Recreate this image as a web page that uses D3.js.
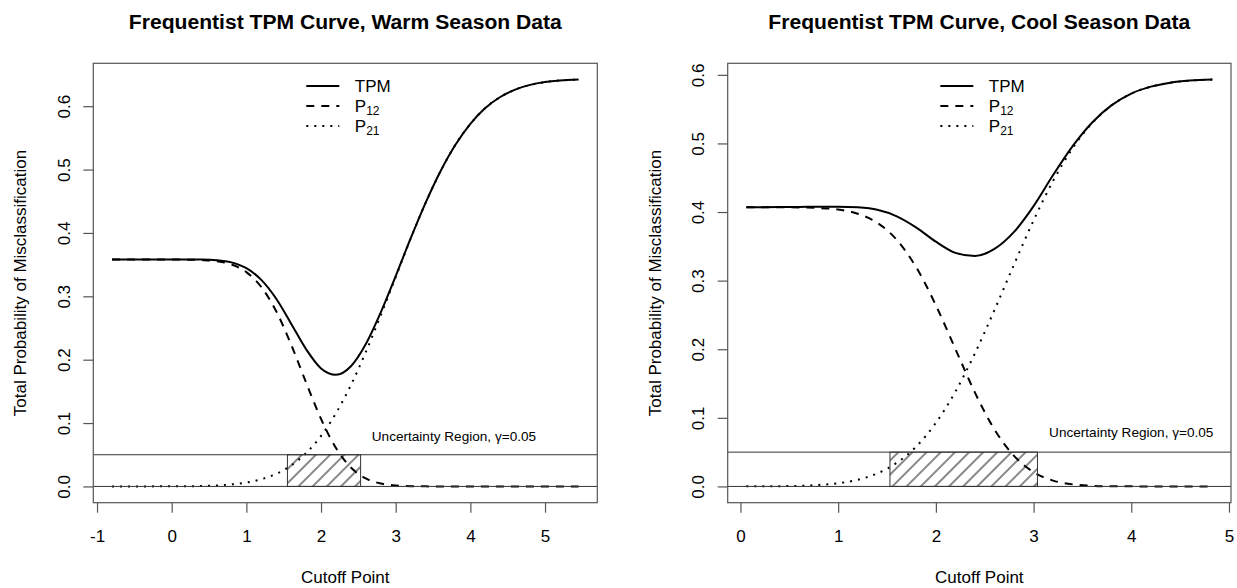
<!DOCTYPE html>
<html>
<head>
<meta charset="utf-8">
<script src="https://cdn.jsdelivr.net/npm/d3@7"></script>
<style>
  body { margin: 0; background: #fff; }
  text { font-family: "Liberation Sans", Arial, sans-serif; fill: #000; }
</style>
</head>
<body>
<div id="chart"></div>
<script>
// warm season
const warmCutoff = [-0.8, -0.6, -0.4, -0.2, 0, 0.2, 0.4, 0.6, 0.8, 1.0, 1.2, 1.4, 1.6, 1.8, 2.0, 2.2,
  2.4, 2.6, 2.8, 3.0, 3.2, 3.4, 3.6, 3.8, 4.0, 4.2, 4.4, 4.6, 4.8, 5.0, 5.2, 5.45];
const warmTPM = [0.358, 0.358, 0.358, 0.3581, 0.3581, 0.3581, 0.3579, 0.3569, 0.3535, 0.3443, 0.3260,
  0.2962, 0.2568, 0.2165, 0.1862, 0.1761, 0.1897, 0.2248, 0.2747, 0.3320, 0.3913, 0.4474, 0.4973,
  0.5391, 0.5722, 0.5970, 0.6145, 0.6262, 0.6336, 0.6380, 0.6405, 0.6420];
const warmP12 = [0.358, 0.358, 0.358, 0.358, 0.358, 0.3578, 0.3572, 0.3554, 0.3503, 0.3382, 0.3147,
  0.2764, 0.2237, 0.1639, 0.1065, 0.0606, 0.0298, 0.0126, 0.0046, 0.0014, 0.0004, 0.0001, 0, 0, 0,
  0, 0, 0, 0, 0, 0, 0];
const warmP21 = [0, 0, 0, 0.0001, 0.0001, 0.0003, 0.0007, 0.0015, 0.0032, 0.0061, 0.0113, 0.0198,
  0.0331, 0.0526, 0.0797, 0.1155, 0.1599, 0.2122, 0.2701, 0.3306, 0.3909, 0.4473, 0.4973, 0.5391,
  0.5722, 0.5970, 0.6145, 0.6262, 0.6336, 0.6380, 0.6405, 0.6420];
const warmRegion = [1.55, 2.53];

// cool season
const coolCutoff = [0.06, 0.2, 0.4, 0.6, 0.8, 1.0, 1.2, 1.4, 1.6, 1.8, 2.0, 2.2, 2.4, 2.6, 2.8, 3.0,
  3.2, 3.4, 3.6, 3.8, 4.0, 4.2, 4.4, 4.6, 4.83];
const coolTPM = [0.4071, 0.4071, 0.4072, 0.4074, 0.4078, 0.4078, 0.4068, 0.4033, 0.3938, 0.3774,
  0.3568, 0.3405, 0.3359, 0.3462, 0.3710, 0.4086, 0.4539, 0.4961, 0.5306, 0.5558, 0.5727, 0.5828,
  0.5886, 0.5916, 0.5931];
const coolP12 = [0.407, 0.407, 0.4069, 0.4067, 0.4059, 0.4037, 0.3976, 0.3844, 0.3594, 0.3191,
  0.2641, 0.2003, 0.1368, 0.0830, 0.0445, 0.0208, 0.0085, 0.0030, 0.0009, 0.0002, 0.0001, 0, 0, 0, 0];
const coolP21 = [0.0001, 0.0001, 0.0003, 0.0009, 0.0021, 0.0047, 0.0097, 0.0189, 0.0344, 0.0583,
  0.0927, 0.1382, 0.1941, 0.2572, 0.3235, 0.3878, 0.4454, 0.4931, 0.5297, 0.5556, 0.5726, 0.5828,
  0.5886, 0.5916, 0.5931];
const coolRegion = [1.53, 3.04];

const gamma = 0.05;
const yTicks = [0, 0.1, 0.2, 0.3, 0.4, 0.5, 0.6];
const legendLabels = [['TPM', ''], ['P', '12'], ['P', '21']];

const TOP = 63.3, BOTTOM = 502.7;
const BOX_COLOR = '#555';

const svg = d3.select('#chart')
  .append('svg')
  .attr('width', 1237)
  .attr('height', 588);

// hatch pattern for the uncertainty region
svg.append('defs')
  .append('pattern')
  .attr('id', 'hatch')
  .attr('patternUnits', 'userSpaceOnUse')
  .attr('width', 10)
  .attr('height', 10)
  .attr('patternTransform', 'rotate(45)')
  .append('line')
  .attr('x1', 5).attr('y1', -1)
  .attr('x2', 5).attr('y2', 11)
  .attr('stroke', '#111')
  .attr('stroke-width', 1);

// line styles: solid, dashed, dotted
const styles = [
  {dash: null},
  {dash: '8,7'},
  {dash: '2,6'}
];

function drawPanel(p) {
  // R style 4% padding round the data range
  const xExt = d3.extent(p.cutoff);
  const xPad = (xExt[1] - xExt[0]) * 0.04;
  const yMax = d3.max(p.tpm);
  const yPad = yMax * 0.04;

  const x = d3.scaleLinear()
    .domain([xExt[0] - xPad, xExt[1] + xPad])
    .range([p.left, p.right]);
  const y = d3.scaleLinear()
    .domain([-yPad, yMax + yPad])
    .range([BOTTOM, TOP]);

  const g = svg.append('g');

  // title
  g.append('text')
    .attr('x', (p.left + p.right) / 2)
    .attr('y', 29.3)
    .attr('text-anchor', 'middle')
    .attr('font-size', 21.1)
    .attr('font-weight', 'bold')
    .text(p.title);

  // curves
  const series = [p.tpm, p.p12, p.p21];
  series.forEach((vals, i) => {
    const line = d3.line()
      .x((d, j) => x(p.cutoff[j]))
      .y(d => y(d))
      .curve(d3.curveMonotoneX);
    g.append('path')
      .datum(vals)
      .attr('d', line)
      .attr('fill', 'none')
      .attr('stroke', '#000')
      .attr('stroke-width', 2)
      .attr('stroke-dasharray', styles[i].dash);
  });

  // uncertainty lines at 0 and gamma
  [0, gamma].forEach(h => {
    g.append('line')
      .attr('x1', p.left).attr('x2', p.right)
      .attr('y1', y(h)).attr('y2', y(h))
      .attr('stroke', '#333')
      .attr('stroke-width', 1);
  });

  // hatched region
  g.append('rect')
    .attr('x', x(p.region[0]))
    .attr('y', y(gamma))
    .attr('width', x(p.region[1]) - x(p.region[0]))
    .attr('height', y(0) - y(gamma))
    .attr('fill', 'url(#hatch)')
    .attr('stroke', '#333')
    .attr('stroke-width', 1);

  g.append('text')
    .attr('x', x(p.labelX))
    .attr('y', y(0.08) + 5)
    .attr('text-anchor', 'middle')
    .attr('font-size', 13.6)
    .text('Uncertainty Region, \u03b3=0.05');

  // box
  g.append('rect')
    .attr('x', p.left)
    .attr('y', TOP)
    .attr('width', p.right - p.left)
    .attr('height', BOTTOM - TOP)
    .attr('fill', 'none')
    .attr('stroke', BOX_COLOR)
    .attr('stroke-width', 1.2);

  // x axis (plain hyphen for negatives, as R prints them)
  const xa = g.append('g')
    .attr('transform', `translate(0,${BOTTOM})`)
    .call(d3.axisBottom(x).tickValues(p.xTicks).tickSize(10).tickSizeOuter(0).tickFormat(d => String(d)));
  xa.select('.domain').remove();
  xa.selectAll('line').attr('stroke', BOX_COLOR).attr('stroke-width', 1.2);
  xa.selectAll('text')
    .attr('y', 39)
    .attr('dy', null)
    .attr('font-size', 17)
    .attr('font-family', '"Liberation Sans", Arial, sans-serif')
    .attr('fill', '#000');

  // y axis
  const ya = g.append('g')
    .attr('transform', `translate(${p.left},0)`)
    .call(d3.axisLeft(y).tickValues(yTicks).tickSize(10).tickSizeOuter(0).tickFormat(d3.format('.1f')));
  ya.select('.domain').remove();
  ya.selectAll('line').attr('stroke', BOX_COLOR).attr('stroke-width', 1.2);
  ya.selectAll('text')
    .attr('x', null)
    .attr('dy', null)
    .attr('text-anchor', 'middle')
    .attr('transform', 'translate(-23.3,0) rotate(-90)')
    .attr('font-size', 17)
    .attr('font-family', '"Liberation Sans", Arial, sans-serif')
    .attr('fill', '#000');

  // axis titles
  g.append('text')
    .attr('x', (p.left + p.right) / 2)
    .attr('y', 583)
    .attr('text-anchor', 'middle')
    .attr('font-size', 17)
    .text('Cutoff Point');

  g.append('text')
    .attr('transform', `translate(${p.left - 67},${(TOP + BOTTOM) / 2}) rotate(-90)`)
    .attr('text-anchor', 'middle')
    .attr('font-size', 17)
    .text('Total Probability of Misclassification');

  // legend
  const cx = (p.left + p.right) / 2;
  legendLabels.forEach((lab, i) => {
    const ly = 86 + i * 20;
    g.append('line')
      .attr('x1', cx - 39).attr('x2', cx - 6)
      .attr('y1', ly).attr('y2', ly)
      .attr('stroke', '#000')
      .attr('stroke-width', 2)
      .attr('stroke-dasharray', styles[i].dash);
    const t = g.append('text')
      .attr('x', cx + 9.5)
      .attr('y', ly + 5.8)
      .attr('font-size', 17)
      .text(lab[0]);
    if (lab[1]) {
      t.append('tspan')
        .attr('dy', 3.5)
        .attr('font-size', 12)
        .text(lab[1]);
    }
  });
}

drawPanel({
  title: 'Frequentist TPM Curve, Warm Season Data',
  cutoff: warmCutoff, tpm: warmTPM, p12: warmP12, p21: warmP21,
  region: warmRegion, labelX: 3.78,
  xTicks: [-1, 0, 1, 2, 3, 4, 5],
  left: 93.3, right: 597.3
});

drawPanel({
  title: 'Frequentist TPM Curve, Cool Season Data',
  cutoff: coolCutoff, tpm: coolTPM, p12: coolP12, p21: coolP21,
  region: coolRegion, labelX: 4.0,
  xTicks: [0, 1, 2, 3, 4, 5],
  left: 727.7, right: 1231
});
</script>
</body>
</html>
